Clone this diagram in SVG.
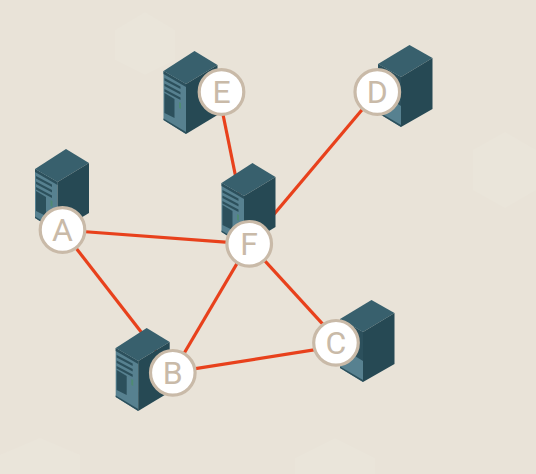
<svg xmlns="http://www.w3.org/2000/svg" width="536" height="474" viewBox="0 0 536 474">
<defs>
<style>
.e{stroke:#e8411c;stroke-width:3.2;fill:none}
.n{fill:#fff;stroke:#c9baa8;stroke-width:3.2}
.t{font-family:"Roboto","Liberation Sans",sans-serif;font-weight:400;font-size:32px;fill:#c9baa8;text-anchor:middle}
.top{fill:#38606d}
.side{fill:#264954}
.front{fill:#578190}
.det{fill:#2c505c}
.hex{fill:#eae5da}
</style>
<g id="srv">
<polygon class="top" points="0,0 31,-20 54,-6 22.5,13"/>
<polygon class="front" points="0,0 22.5,13 22.5,63 0,49"/>
<polygon class="side" points="22.5,13 54,-6 54,44 22.5,63"/>
<polygon class="det" points="0,0 22.5,13 22.5,16 0,3"/>
<polygon class="det" points="0,47.500 22.5,61 22.5,63 0,49"/>
<polygon class="det" points="1,7 17,15.5 17,18 1,9.500"/>
<polygon class="det" points="1,12.500 17,21 17,23.500 1,15"/>
<polygon class="det" points="1,18 17,26.500 17,29 1,20.500"/>
<polygon class="det" points="1,22 11,28 11,47 1,42"/>
<polygon fill="#4f8a74" points="15.500,31 17.500,32 17.500,38 15.500,37"/>
</g>
<g id="srvm">
<polygon class="top" points="0,0 31.500,-19 54.500,-6 23,13"/>
<polygon class="front" points="0,0 23,13 23,63 0,49"/>
<polygon class="side" points="23,13 54.500,-6 54.500,45 23,63"/>
<polygon class="det" points="0,0 23,13 23,42 0,28"/>
<polygon class="det" points="0,47.500 23,61 23,63 0,49"/>
</g>
</defs>
<rect width="536" height="474" fill="#e9e3d8"/>
<g id="background">
<polygon class="hex" points="473,150 505,132 536,150 536,190 505,208 473,190"/>
<polygon class="hex" points="295,474 295,458 335,438 375,458 375,474"/>
<polygon class="hex" points="0,474 0,455 40,438 80,455 80,474"/>
<polygon class="hex" points="115,30 145,12 175,30 175,60 145,75 115,60"/>
</g>
<g id="connectors">
<line class="e" x1="62" y1="230" x2="249" y2="243.800"/>
<line class="e" x1="62" y1="230" x2="173" y2="373"/>
<line class="e" x1="172.500" y1="373" x2="248.500" y2="244"/>
<line class="e" x1="173" y1="372.200" x2="336" y2="346.300"/>
<line class="e" x1="249" y1="243.500" x2="336" y2="338.600"/>
<line class="e" x1="249" y1="244" x2="377" y2="92"/>
<line class="e" x1="222.100" y1="110" x2="240.400" y2="200"/>
</g>
<g id="node-E"><use href="#srv" x="163.500" y="71"/><circle class="n" cx="221.500" cy="92" r="22.300"/><text class="t" x="221.500" y="103">E</text></g>
<g id="node-D"><use href="#srvm" x="378" y="64"/><circle class="n" cx="377.300" cy="92" r="22.300"/><text class="t" x="377.300" y="103">D</text></g>
<g id="node-A"><use href="#srv" x="35" y="169"/><circle class="n" cx="62.500" cy="230" r="22.300"/><text class="t" x="62.500" y="241">A</text></g>
<g id="node-F"><use href="#srv" x="221.500" y="183"/><circle class="n" cx="249.200" cy="243.800" r="22.300"/><text class="t" x="249.200" y="255">F</text></g>
<g id="node-B"><use href="#srv" x="115.700" y="348"/><circle class="n" cx="172.800" cy="372.800" r="22.300"/><text class="t" x="172.800" y="384">B</text></g>
<g id="node-C"><use href="#srvm" x="340" y="319"/><circle class="n" cx="336" cy="342.800" r="22.300"/><text class="t" x="336" y="354">C</text></g>
</svg>
